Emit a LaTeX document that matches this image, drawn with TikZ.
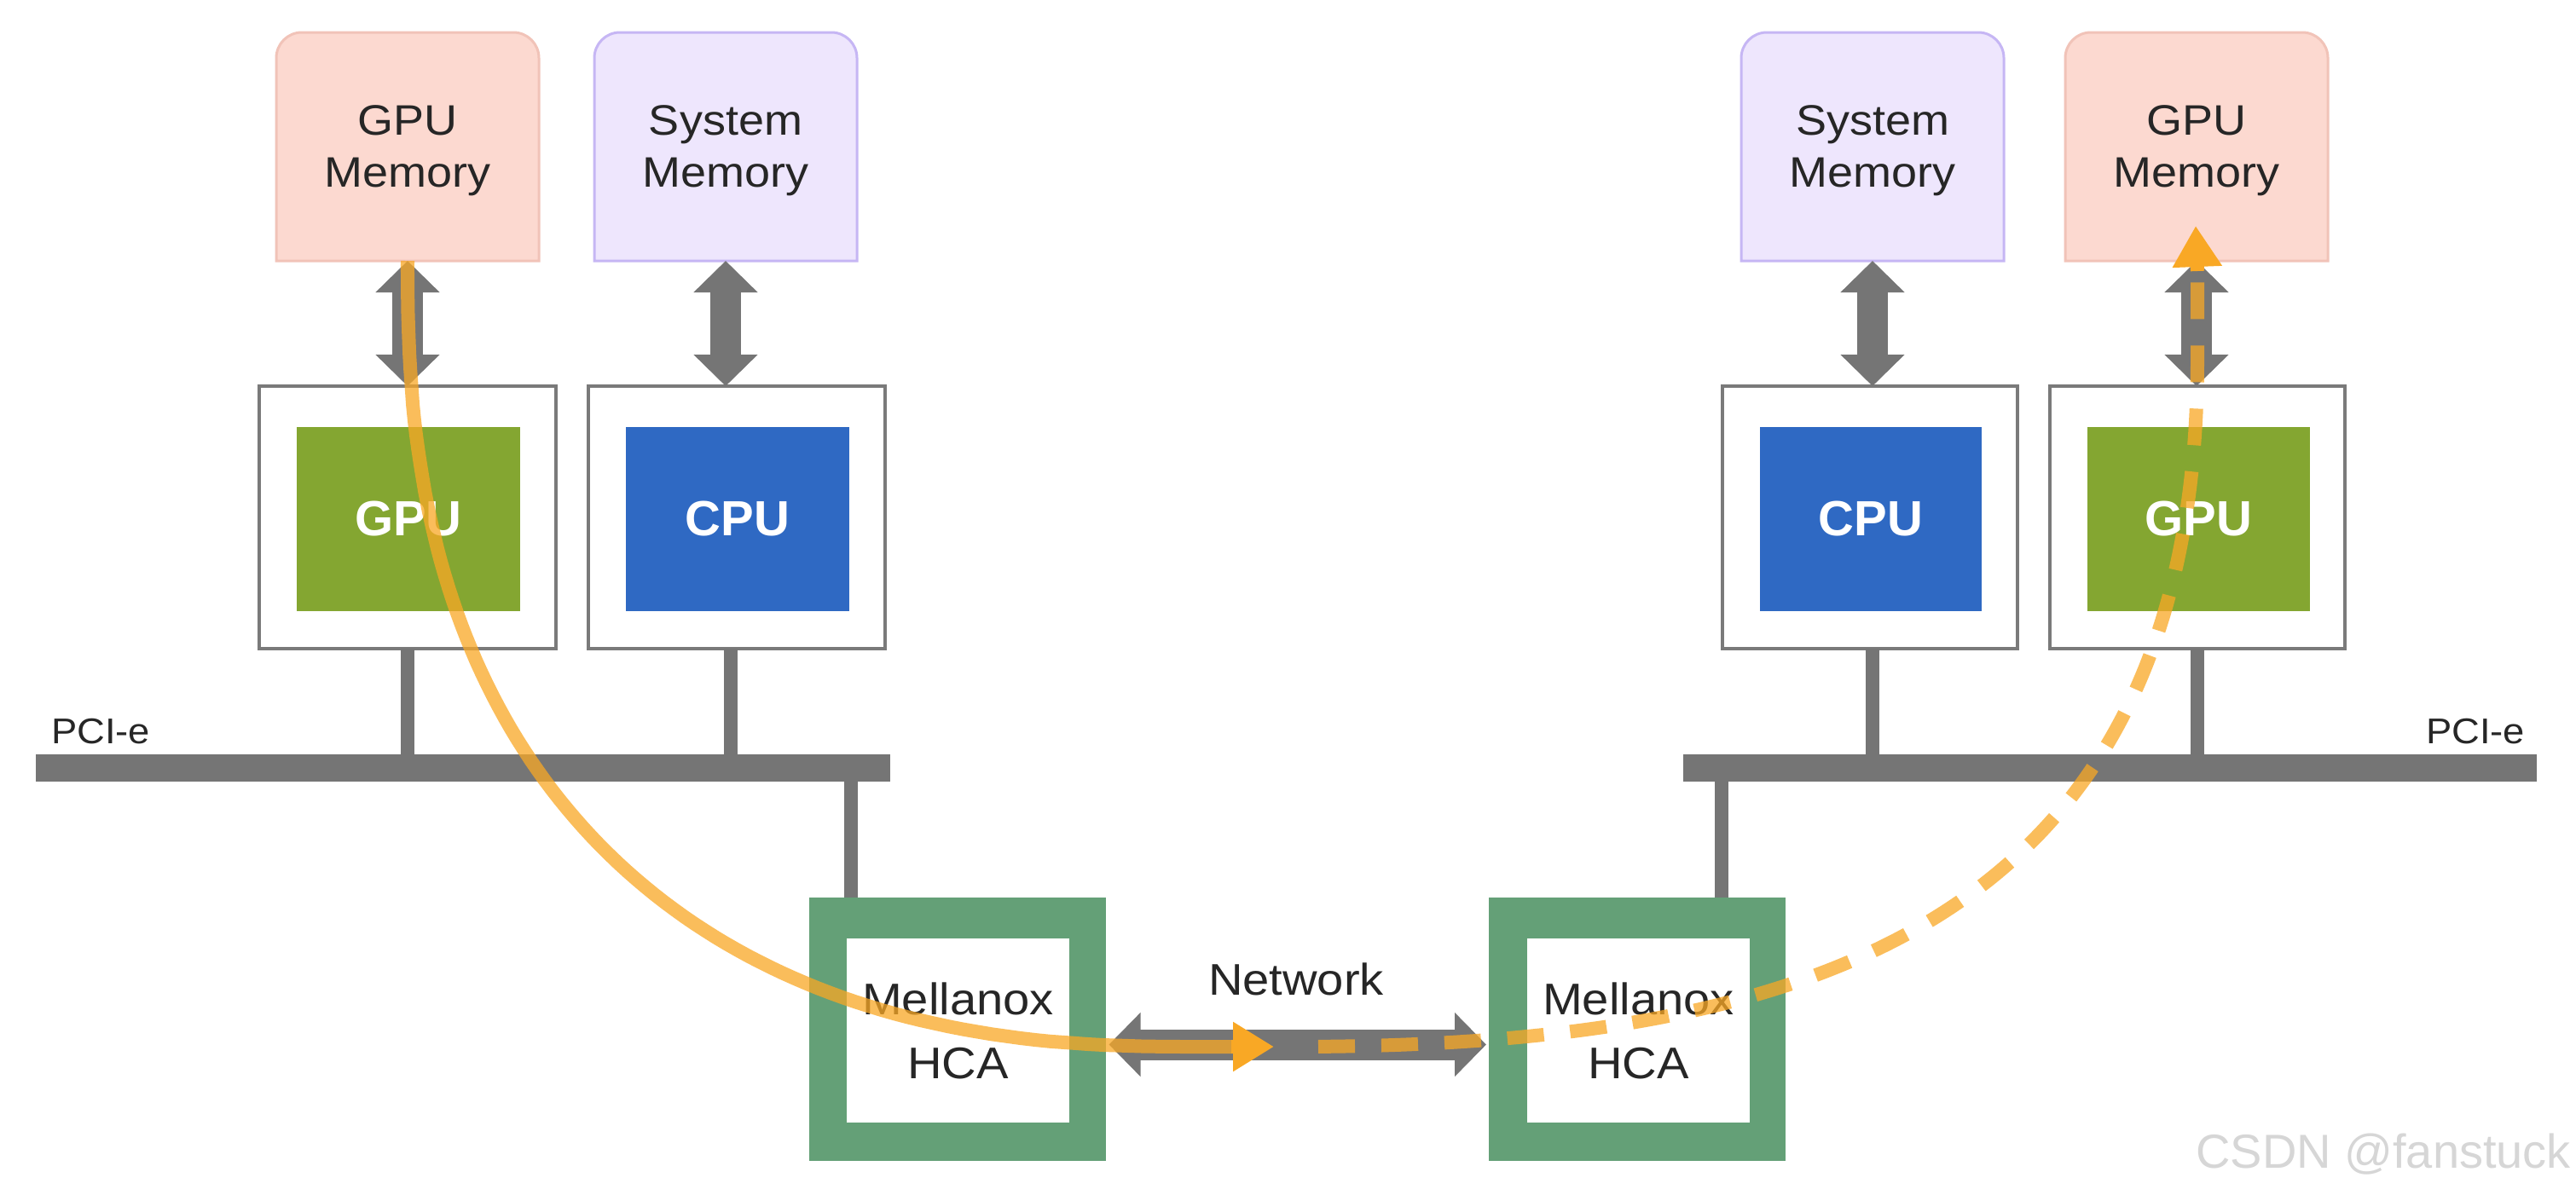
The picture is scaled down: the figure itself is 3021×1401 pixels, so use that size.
\documentclass[tikz,border=0pt]{standalone}
\usepackage{fontspec}
\setmainfont{Liberation Sans}
\newfontfamily\labfont{Liberation Sans}[FakeStretch=1.08]
\usetikzlibrary{arrows.meta,backgrounds}
\definecolor{bargray}{HTML}{757575}
\definecolor{boxgray}{HTML}{7A7A7A}
\definecolor{gpugreen}{HTML}{84A631}
\definecolor{cpublue}{HTML}{2F69C3}
\definecolor{hcagreen}{HTML}{64A077}
\definecolor{gmemfill}{HTML}{FCD9D0}
\definecolor{gmemline}{HTML}{F1C3B8}
\definecolor{smemfill}{HTML}{EEE6FD}
\definecolor{smemline}{HTML}{C6B6F4}
\definecolor{flow}{HTML}{F9A825}
\definecolor{txt}{HTML}{262626}
\definecolor{wmgray}{HTML}{D6D6D6}
\begin{document}
\begin{tikzpicture}[x=1pt,y=-1pt,
  every node/.style={inner sep=0pt,outer sep=0pt},
  dbltip/.tip={Triangle[length=37pt,width=73pt]},
  flowtip/.tip={Triangle[length=48pt,width=55pt]},
  memtext/.style={minimum width=308pt,minimum height=268pt,align=center,text=txt,
    font=\labfont\fontsize{50}{61}\selectfont,text depth=0pt},
  chipbox/.style={draw=boxgray,line width=4pt,fill=white,minimum width=348pt,minimum height=308pt},
  chip/.style={minimum width=262pt,minimum height=216pt,text=white,
    font=\bfseries\fontsize{58}{64}\selectfont},
  gpu/.style={chip,fill=gpugreen},
  cpu/.style={chip,fill=cpublue},
  hca/.style={fill=hcagreen,minimum width=348pt,minimum height=309pt},
  hcain/.style={fill=white,minimum width=261pt,minimum height=216pt,align=center,text=txt,
    font=\labfont\fontsize{52}{75}\selectfont},
  bus/.style={fill=bargray,minimum height=32pt},
  stub/.style={draw=bargray,line width=16pt},
  dbl/.style={draw=bargray,line width=36pt,dbltip-dbltip},
  labtext/.style={text=txt,font=\labfont\fontsize{52}{60}\selectfont},
  pcitext/.style={text=txt,font=\labfont\fontsize{42}{48}\selectfont},
  flowline/.style={draw=flow,draw opacity=0.75,line width=16pt},
  flowhead/.style={draw=flow,line width=16pt,-flowtip}
]
\begin{scope}[on background layer]
  \fill[white] (0,0) rectangle (3021,1401);
\end{scope}
\useasboundingbox (0,0) rectangle (3021,1401);

% memories
\node[memtext] (gm1) at (478,172) {GPU\\Memory};
\node[memtext] (sm1) at (851,172) {System\\Memory};
\node[memtext] (sm2) at (2196,172) {System\\Memory};
\node[memtext] (gm2) at (2576,172) {GPU\\Memory};
\begin{scope}[on background layer]
\foreach \n/\f/\l in {gm1/gmemfill/gmemline, sm1/smemfill/smemline, sm2/smemfill/smemline, gm2/gmemfill/gmemline}
  \filldraw[fill=\f,draw=\l,line width=3pt] (\n.south west) -- ([yshift=-30pt]\n.north west)
    arc[start angle=180,end angle=90,radius=30pt] -- ([xshift=-30pt]\n.north east)
    arc[start angle=90,end angle=0,radius=30pt] -- (\n.south east) -- cycle;
\end{scope}

% chips
\node[chipbox] (gpuLb) at (478,607) {};
\node[gpu] (gpuL) at (479,609) {GPU};
\node[chipbox] (cpuLb) at (864,607) {};
\node[cpu] (cpuL) at (865,609) {CPU};
\node[chipbox,minimum width=346pt] (cpuRb) at (2193,607) {};
\node[cpu,minimum width=260pt] (cpuR) at (2194,609) {CPU};
\node[chipbox,minimum width=346pt] (gpuRb) at (2577,607) {};
\node[gpu,minimum width=261pt] (gpuR) at (2578.5,609) {GPU};

% buses
\node[bus,minimum width=1002pt] (busL) at (543,901) {};
\node[bus,minimum width=1001pt] (busR) at (2474.5,901) {};
\node[pcitext,anchor=base west] (pciL) at (60,872) {PCI-e};
\node[pcitext,anchor=base east] (pciR) at (2961,872) {PCI-e};

% HCAs
\node[hca] (hcaLo) at (1122.5,1207.5) {};
\node[hcain] (hcaL) at (1123.5,1209) {Mellanox\\HCA};
\node[hca] (hcaRo) at (1920,1207.5) {};
\node[hcain] (hcaR) at (1921.5,1209) {Mellanox\\HCA};

% stubs
\draw[stub] (gpuLb.south) -- (gpuLb.south |- busL.north);
\draw[stub] ([xshift=-7pt]cpuLb.south) -- ([xshift=-7pt]cpuLb.south |- busL.north);
\draw[stub] ([xshift=3pt]cpuRb.south) -- ([xshift=3pt]cpuRb.south |- busR.north);
\draw[stub] (gpuRb.south) -- (gpuRb.south |- busR.north);
\draw[stub] ([xshift=49pt]hcaLo.north west) -- ([xshift=49pt]hcaLo.north west |- busL.south);
\draw[stub] ([xshift=-75pt]hcaRo.north east) -- ([xshift=-75pt]hcaRo.north east |- busR.south);

% memory links
\draw[dbl] (gm1.south) -- (gpuLb.north);
\draw[dbl] (sm1.south) -- (sm1.south |- cpuLb.north);
\draw[dbl] (sm2.south) -- (sm2.south |- cpuRb.north);
\draw[dbl] (gm2.south) -- (gm2.south |- gpuRb.north);

% network
\draw[dbl] ([xshift=4pt,yshift=-18pt]hcaLo.east) -- ([xshift=-3pt,yshift=-18pt]hcaRo.west);
\node[labtext,anchor=base] (net) at (1520,1167) {Network};

% data flow
\coordinate (f1) at (1446,1228);
\coordinate (f1t) at (1494,1228);
\coordinate (f2) at (1515,1228);
\coordinate (f3) at (2577,318);
\coordinate (f3t) at (2575,265);
\draw[flowline] (gm1.south) -- plot[domain=0.2:89.8,samples=90,variable=\t]
  ({1400-922*cos(\t)^0.8333},{308+920*sin(\t)^0.8333}) -- (f1);
\draw[flowhead] ([xshift=-2pt]f1) -- (f1t);
\draw[flowline,dash pattern=on 43pt off 31pt,dash phase=43pt] (f2)
  .. controls (2100,1228) and (2577,1100) .. (2577,420) -- (f3);
\draw[flowhead] (f3) -- (f3t);

% watermark
\node[anchor=base east,text=wmgray,font=\fontsize{56}{60}\selectfont] (wm) at (3015,1370) {CSDN @fanstuck};
\end{tikzpicture}
\end{document}
